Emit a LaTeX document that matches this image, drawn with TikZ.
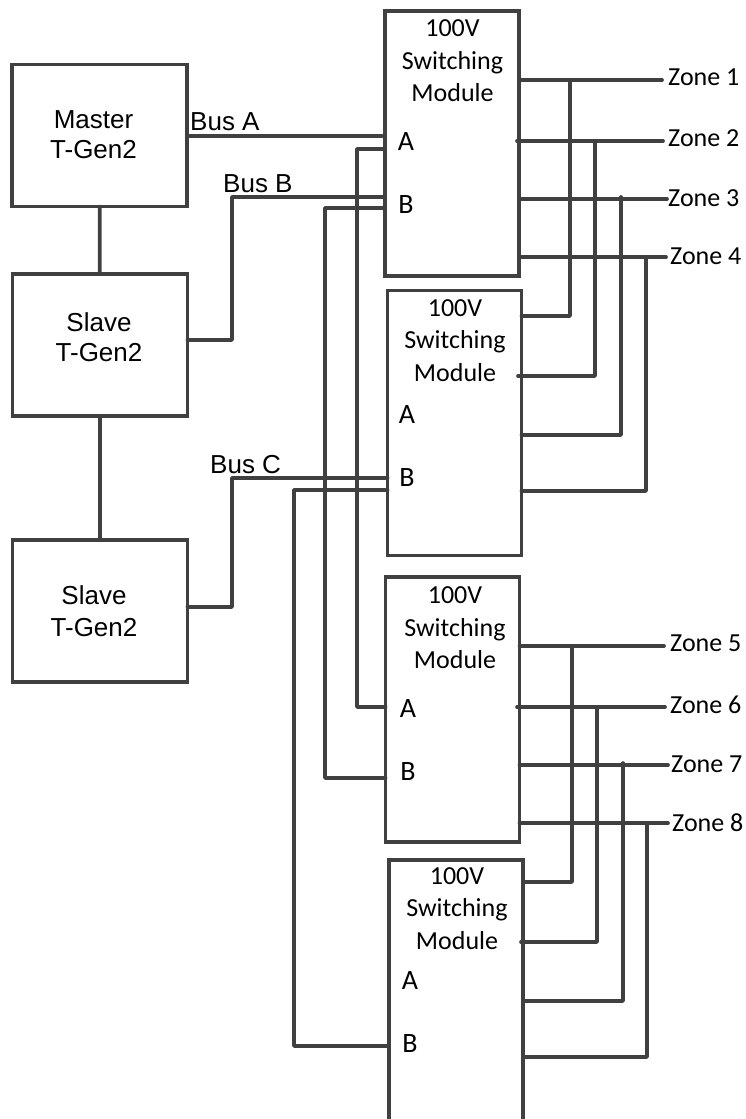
\documentclass[tikz,border=0pt]{standalone}
\usepackage{fontspec}
\setmainfont{Liberation Sans}
\newfontfamily\modfont{Carlito}
\usepackage{xcolor}
\usetikzlibrary{positioning}
\definecolor{wirecol}{HTML}{404040}

\begin{document}
\begin{tikzpicture}[
  x=1pt, y=-1pt,
  genbox/.style={draw=wirecol, line width=3.7pt, rectangle, minimum width=175pt, minimum height=142pt, outer sep=0pt},
  genlbl/.style={font=\fontsize{26}{29.5}\selectfont, align=center, inner sep=0pt},
  modbox/.style={draw=wirecol, line width=3.7pt, rectangle, minimum width=134pt, minimum height=265pt, outer sep=0pt},
  modlbl/.style={font=\modfont\fontsize{26}{32.5}\selectfont, align=center, inner sep=0pt},
  port/.style={font=\modfont\fontsize{28}{30}\selectfont, inner sep=0pt},
  zone/.style={font=\modfont\fontsize{26}{28}\selectfont, inner sep=0pt, anchor=west},
  buslbl/.style={font=\fontsize{26}{28}\selectfont, inner sep=0pt, anchor=west},
  wire/.style={draw=wirecol, line width=3.7pt, line join=round, line cap=round}
]
\path[use as bounding box, clip] (0,0) rectangle (746,1119);

\node[genbox] (master) at (99.5,135.5) {};
\node[genbox] (slave1) at (100,345) {};
\node[genbox] (slave2) at (100,611) {};

\node[genlbl] (masterl) at (93.5,134.5) {Master\\T-Gen2};
\node[genlbl] (slave1l) at (99,337) {Slave\\T-Gen2};
\node[genlbl] (slave2l) at (94,611) {Slave\\[2.5pt]T-Gen2};

\node[modbox] (m1) at (452,143.5) {};
\node[modbox] (m2) at (454.5,423) {};
\node[modbox] (m3) at (452.5,709.5) {};
\node[modbox, minimum height=280pt] (m4) at (456,1000) {};

\node[modlbl] (m1t) at (452.5,61) {100V\\Switching\\Module};
\node[modlbl] (m2t) at (455,340.5) {100V\\Switching\\Module};
\node[modlbl] (m3t) at (455,628) {100V\\Switching\\Module};
\node[modlbl] (m4t) at (457,908.5) {100V\\Switching\\Module};

\node[port] (m1a) at (406,142) {A};
\node[port] (m1b) at (406,205) {B};
\node[port] (m2a) at (407,415) {A};
\node[port] (m2b) at (407,478) {B};
\node[port] (m3a) at (408,708.5) {A};
\node[port] (m3b) at (408,772) {B};
\node[port] (m4a) at (410,980.5) {A};
\node[port] (m4b) at (410,1044) {B};

\node[zone] (z1) at (668,77) {Zone 1};
\node[zone] (z2) at (668,138.5) {Zone 2};
\node[zone] (z3) at (668,198) {Zone 3};
\node[zone] (z4) at (670,256.5) {Zone 4};
\node[zone] (z5) at (670,643) {Zone 5};
\node[zone] (z6) at (670,705) {Zone 6};
\node[zone] (z7) at (671,764.5) {Zone 7};
\node[zone] (z8) at (672,823) {Zone 8};

\node[buslbl] (busa) at (190,122) {Bus A};
\node[buslbl] (busb) at (223,184) {Bus B};
\node[buslbl] (busc) at (210,465) {Bus C};

% generators
\draw[wire] (master) -- (slave1);
\draw[wire] (slave1) -- (slave2);

% bus A
\draw[wire] (master.east |- 0,136) -- (382,136);
\draw[wire] (m1.west |- 0,149) -- (357,149) -- (357,707) -- (m3.west |- 0,707);

% bus B
\draw[wire] (slave1.east |- 0,340) -- (232,340) -- (232,197) -- (m1.west |- 0,197);
\draw[wire] (m1.west |- 0,208) -- (325,208) -- (325,778) -- (m3.west |- 0,778);

% bus C
\draw[wire] (slave2.east |- 0,607) -- (232,607) -- (232,478) -- (m2.west |- 0,478);
\draw[wire] (m2.west |- 0,490) -- (294,490) -- (294,1046) -- (m4.west |- 0,1046);

% zones 1 to 4
\coordinate (z1e) at (662,80);
\coordinate (z2e) at (663,141);
\coordinate (z3e) at (667,199);
\coordinate (z4e) at (666,257);
\draw[wire] (m1.east |- z1e) -- (z1e);
\draw[wire] (517,141) -- (z2e);
\draw[wire] (m1.east |- z3e) -- (z3e);
\draw[wire] (m1.east |- z4e) -- (z4e);
\draw[wire] (570,80) -- (570,316) -- (m2.east |- 0,316);
\draw[wire] (595,141) -- (595,376) -- (518,376);
\draw[wire] (621,197) -- (621,435) -- (m2.east |- 0,435);
\draw[wire] (646,257) -- (646,491) -- (m2.east |- 0,491);

% zones 5 to 8
\coordinate (z5e) at (664,646);
\coordinate (z6e) at (665,707);
\coordinate (z7e) at (668,765);
\coordinate (z8e) at (668,823);
\draw[wire] (m3.east |- z5e) -- (z5e);
\draw[wire] (517,707) -- (z6e);
\draw[wire] (m3.east |- z7e) -- (z7e);
\draw[wire] (m3.east |- z8e) -- (z8e);
\draw[wire] (572,646) -- (572,882) -- (m4.east |- 0,882);
\draw[wire] (597,707) -- (597,942) -- (521,942);
\draw[wire] (623,763) -- (623,1001) -- (m4.east |- 0,1001);
\draw[wire] (647,823) -- (647,1057) -- (m4.east |- 0,1057);
\end{tikzpicture}
\end{document}
